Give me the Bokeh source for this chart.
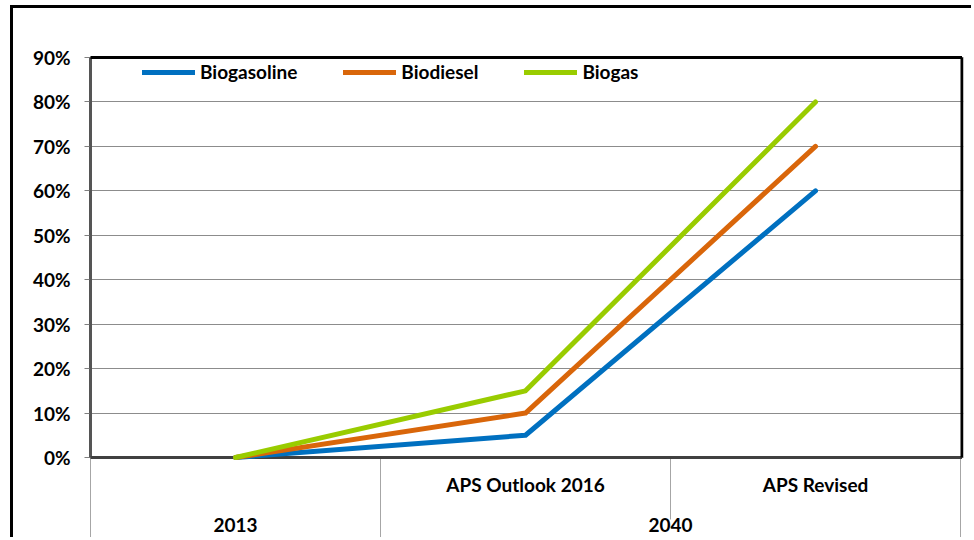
from bokeh.plotting import figure
from bokeh.models import Range1d, FixedTicker, NumeralTickFormatter, Legend, LegendItem
from bokeh.core.properties import value
from bokeh.embed import file_html
from bokeh.resources import INLINE

# ---------------- data ----------------
scenarios = ["", "APS Outlook 2016", "APS Revised"]
years = ["2013", "2040"]
year_span = [(0, 1), (1, 3)]          # which scenario slots each year covers
series_names = ["Biogasoline", "Biodiesel", "Biogas"]
biogasoline = [0.00, 0.05, 0.60]
biodiesel = [0.00, 0.10, 0.70]
biogas = [0.00, 0.15, 0.80]
series_colors = ["#0070C0", "#D9660A", "#99CC00"]
y_ticks = [0.0, 0.1, 0.2, 0.3, 0.4, 0.5, 0.6, 0.7, 0.8, 0.9]

FONT = "Lato"
FS = "19px"

# ---------------- geometry ----------------
W, H = 961, 532
PX_X = 290.0          # px per category
PX_Y = 444.44         # px per unit (100%)
frame_left, frame_right = 75, 950
frame_top, frame_bottom = 44, 532
x_start = -2.0 / PX_X
x_end = x_start + (frame_right - frame_left) / PX_X
y_end = 0.9 + 5.0 / PX_Y
y_start = y_end - (frame_bottom - frame_top) / PX_Y

p = figure(width=W, height=H, output_backend="svg", toolbar_location=None,
           x_range=Range1d(x_start, x_end), y_range=Range1d(y_start, y_end),
           x_axis_location=None, tools="")
p.min_border_left = frame_left
p.min_border_right = W - frame_right
p.min_border_top = frame_top
p.min_border_bottom = 0
p.outline_line_color = None
p.background_fill_color = "white"
p.border_fill_color = "white"
p.styles = {"margin-left": "10px", "margin-top": "5px",
            "border-left": "3px solid black", "border-top": "3px solid black"}

# y axis
ax = p.yaxis[0]
ax.ticker = FixedTicker(ticks=y_ticks)
ax.formatter = NumeralTickFormatter(format="0%")
ax.axis_line_color = None
ax.major_tick_out = 4
ax.major_tick_in = 1
ax.major_tick_line_color = "#808080"
ax.minor_tick_line_color = None
ax.major_label_standoff = 14
ax.major_label_text_font = FONT
ax.major_label_text_font_style = "bold"
ax.major_label_text_font_size = FS
ax.major_label_text_color = "black"

p.ygrid.grid_line_color = "#8C8C8C"
p.ygrid.grid_line_width = 1
p.xgrid.grid_line_color = None

n = len(scenarios)
xc = [i + 0.5 for i in range(n)]
bottom_val = y_start

# category separators below the plot area
sep_x = [0, 1, 2, 3]
sep_bottom = [bottom_val, bottom_val, -(519 - 457) / PX_Y, bottom_val]
p.segment(x0=sep_x, y0=[0] * 4, x1=sep_x, y1=sep_bottom,
          line_color="#A6A6A6", line_width=1)

# plot area frame
p.segment(x0=[0], y0=[0], x1=[0], y1=[0.9], line_color="#555555", line_width=3)
p.segment(x0=[0, 0], y0=[0.9, 0], x1=[n + 1.5 / PX_X, n + 1.5 / PX_X], y1=[0.9, 0],
          line_color=["black", "#404040"], line_width=3)
p.segment(x0=[n + 1.5 / PX_X], y0=[0], x1=[n + 1.5 / PX_X], y1=[0.9],
          line_color="black", line_width=3)

# series
renderers = []
for name, vals, col in zip(series_names, [biogasoline, biodiesel, biogas], series_colors):
    r = p.line(xc, vals, line_color=col, line_width=5, line_join="round", line_cap="round")
    renderers.append(r)

# category labels
row1_y = -(484 - 457) / PX_Y
row2_y = -(525 - 457) / PX_Y
p.text(x=xc, y=[row1_y] * n, text=scenarios, text_align="center", text_baseline="middle",
       text_font=value(FONT), text_font_style="bold", text_font_size=FS, text_color="black")
yx = [(a + b) / 2.0 for a, b in year_span]
p.text(x=yx, y=[row2_y] * len(years), text=years, text_align="center", text_baseline="middle",
       text_font=value(FONT), text_font_style="bold", text_font_size=FS, text_color="black")

legend = Legend(items=[LegendItem(label=nm, renderers=[r]) for nm, r in zip(series_names, renderers)],
                orientation="horizontal", location=(54, 457), padding=0, margin=0,
                spacing=46, glyph_width=53, glyph_height=20, label_height=20,
                label_standoff=5, border_line_color=None, background_fill_alpha=0,
                label_text_font=FONT, label_text_font_style="bold",
                label_text_font_size=FS, label_text_color="black")
p.add_layout(legend)

open("out.html", "w").write(file_html(p, INLINE))
